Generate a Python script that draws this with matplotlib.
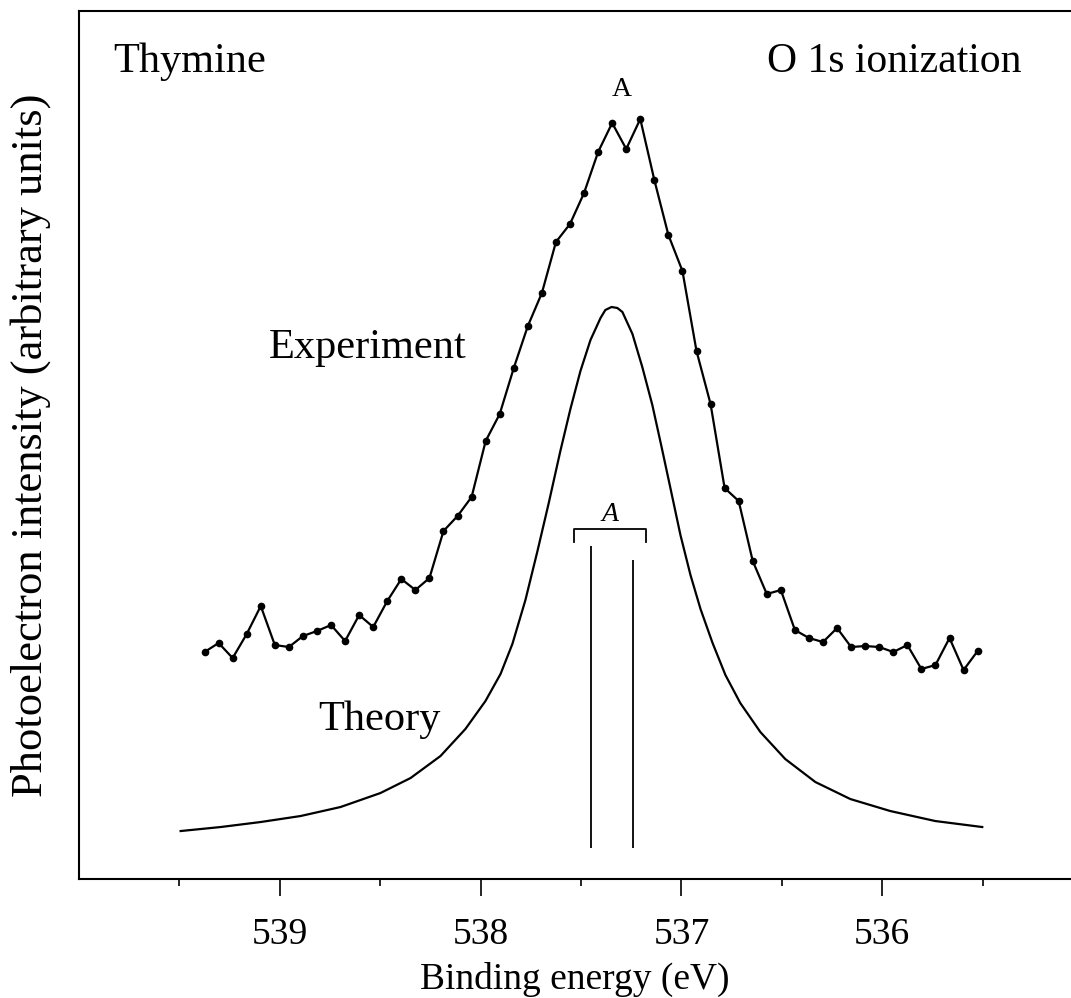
import numpy as np
import matplotlib.pyplot as plt

plt.rcParams['font.family'] = ['Liberation Serif', 'DejaVu Serif']

# experiment: binding energy (eV) and intensity (arb. units)
exp_energy = [539.375, 539.305, 539.235, 539.165, 539.095, 539.025, 538.955, 538.885,
              538.815, 538.745, 538.675, 538.605, 538.535, 538.465, 538.395, 538.325,
              538.255, 538.185, 538.115, 538.045, 537.975, 537.905, 537.835, 537.765,
              537.695, 537.625, 537.555, 537.485, 537.415, 537.345, 537.275, 537.205,
              537.135, 537.065, 536.995, 536.925, 536.855, 536.785, 536.715, 536.645,
              536.575, 536.505, 536.435, 536.365, 536.295, 536.225, 536.155, 536.085,
              536.015, 535.945, 535.875, 535.805, 535.735, 535.665, 535.595, 535.525]
exp_int = [227, 236, 221, 245, 273, 234, 232, 243, 248, 254, 238, 264, 252, 278, 300, 289,
           301, 348, 363, 382, 438, 465, 511, 553, 586, 637, 655, 686, 727, 756, 730, 760,
           699, 644, 608, 528, 475, 391, 378, 318, 285, 289, 249, 241, 237, 251, 232, 233,
           232, 227, 234, 210, 214, 241, 209, 228]

# theory: broadened spectrum
th_energy = [539.494, 539.295, 539.096, 538.897, 538.698, 538.499, 538.349, 538.200,
             538.076, 537.976, 537.901, 537.842, 537.777, 537.717, 537.662, 537.603,
             537.553, 537.503, 537.453, 537.403, 537.379, 537.348, 537.319, 537.294,
             537.244, 537.195, 537.145, 537.100, 537.055, 537.005, 536.955, 536.905,
             536.845, 536.781, 536.707, 536.607, 536.483, 536.333, 536.159, 535.960,
             535.736, 535.502]
th_int = [48, 52, 57, 63, 72, 86, 101, 123, 150, 178, 205, 235, 279, 328, 375, 428,
          470, 508, 539, 561, 569, 572, 571, 567, 545, 512, 474, 433, 391, 344, 304, 270,
          236, 204, 176, 147, 120, 97, 80, 68, 58, 52]

# theory line spectrum (sticks)
stick_energy = [537.45, 537.24]
stick_top = [333, 319]
stick_base = 31

fig = plt.figure(figsize=(10.71, 9.98), dpi=100)
ax = fig.add_axes([0.0738, 0.1192, 0.9262, 0.8698])

ax.plot(exp_energy, exp_int, '-', color='black', lw=1.6, marker='o', ms=4.5)
ax.plot(th_energy, th_int, '-', color='black', lw=1.6)
ax.vlines(stick_energy, stick_base, stick_top, color='black', lw=1.3)

# bracket over the two sticks
bx = [537.535, 537.535, 537.178, 537.178]
by = [337, 350, 350, 337]
ax.plot(bx, by, color='black', lw=1.3)
ax.text(537.357, 358, 'A', style='italic', fontsize=20, ha='center', va='baseline')
ax.text(537.295, 783, 'A', fontsize=20, ha='center', va='baseline')

ax.text(539.056, 521, 'Experiment', fontsize=30.5, ha='left', va='baseline')
ax.text(538.807, 149, 'Theory', fontsize=30.5, ha='left', va='baseline')
ax.text(0.034, 0.930, 'Thymine', fontsize=30.5, transform=ax.transAxes, va='baseline')
ax.text(0.950, 0.930, 'O 1s ionization', fontsize=30, transform=ax.transAxes,
        ha='right', va='baseline')

ax.set_xlim(540.0, 535.06)
ax.set_ylim(0, 868)
ax.set_xticks([539, 538, 537, 536])
ax.set_xticks([539.5, 538.5, 537.5, 536.5, 535.5], minor=True)
ax.set_yticks([])
ax.tick_params(axis='x', which='major', length=12, width=1.2, labelsize=27, pad=16)
ax.tick_params(axis='x', which='minor', length=5, width=1.2)
for s in ['left', 'bottom', 'top']:
    ax.spines[s].set_linewidth(1.5)
ax.spines['right'].set_visible(False)

ax.set_xlabel('Binding energy (eV)', fontsize=27, labelpad=7)
ax.set_ylabel('Photoelectron intensity (arbitrary units)', fontsize=32, labelpad=20)

plt.savefig('out.png', dpi=100)
